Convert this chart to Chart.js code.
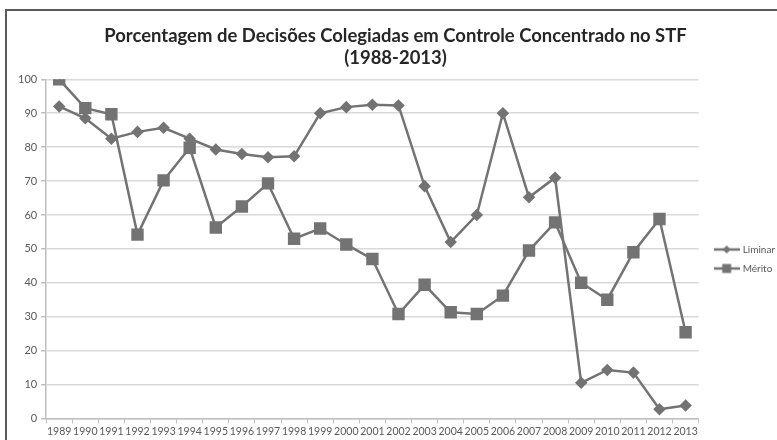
<!DOCTYPE html>
<html>
<head>
<meta charset="utf-8">
<script src="https://cdn.jsdelivr.net/npm/chart.js@4.4.1/dist/chart.umd.min.js"></script>
<style>
  html, body { margin: 0; padding: 0; background: #fff; overflow: hidden; }
  #wrap { position: relative; width: 777px; height: 440px; }
  #frame { position: absolute; left: 5px; top: 9px; width: 800px; height: 500px;
           border-left: 2px solid #5a5a5a; border-top: 2px solid #5a5a5a; pointer-events: none; }
</style>
</head>
<body>
<div id="wrap">
  <canvas id="c" width="777" height="440"></canvas>
  <div id="frame"></div>
</div>
<script>
const titleLines = ['Porcentagem de Decisões Colegiadas em Controle Concentrado no STF', '(1988-2013)'];
const years = ['1989','1990','1991','1992','1993','1994','1995','1996','1997','1998','1999','2000','2001','2002','2003','2004','2005','2006','2007','2008','2009','2010','2011','2012','2013'];
const liminar = [92, 88.5, 82.5, 84.5, 85.7, 82.5, 79.3, 78, 77, 77.3, 90, 91.8, 92.5, 92.3, 68.5, 52, 60, 90, 65.2, 71, 10.5, 14.3, 13.5, 2.7, 3.8];
const merito = [100, 91.5, 89.7, 54.2, 70.2, 79.8, 56.3, 62.5, 69.3, 53, 56, 51.3, 47, 30.8, 39.4, 31.3, 30.8, 36.2, 49.5, 57.8, 40, 35, 49, 58.8, 25.4];
const seriesNames = ['Liminar', 'Mérito'];
const yTicks = [0, 10, 20, 30, 40, 50, 60, 70, 80, 90, 100];

const lineColor = '#737373';
const font = 'Lato, "DejaVu Sans", sans-serif';

// fit title font size to the reference title width (~583px)
function fitSize(text, targetW) {
  const m = document.createElement('canvas').getContext('2d');
  m.font = 'bold 100px ' + font;
  return Math.min(21, 100 * targetW / m.measureText(text).width);
}
const titleSize = fitSize(titleLines[0], 583);

function legendIcon(kind) {
  const cv = document.createElement('canvas');
  cv.width = 26; cv.height = 12;
  const g = cv.getContext('2d');
  g.strokeStyle = lineColor; g.fillStyle = lineColor; g.lineWidth = 2.5;
  g.beginPath(); g.moveTo(0, 6); g.lineTo(26, 6); g.stroke();
  g.beginPath();
  if (kind === 'd') { g.moveTo(13, 2); g.lineTo(17, 6); g.lineTo(13, 10); g.lineTo(9, 6); g.closePath(); }
  else { g.rect(8.5, 1.5, 9, 9); }
  g.fill();
  return cv;
}
const icons = [legendIcon('d'), legendIcon('s')];

const legendShift = {
  id: 'legendShift',
  afterLayout(chart) {
    const lg = chart.legend;
    if (lg) { lg.top += 33; lg.bottom += 33; lg.left += 8; lg.right += 8; }
  }
};

new Chart(document.getElementById('c'), {
  type: 'line',
  data: {
    labels: years,
    datasets: [
      { label: seriesNames[0], data: liminar, borderColor: lineColor, backgroundColor: lineColor,
        borderWidth: 2.5, pointStyle: 'rectRot', pointRadius: 4.5, pointHoverRadius: 4.5, tension: 0 },
      { label: seriesNames[1], data: merito, borderColor: lineColor, backgroundColor: lineColor,
        borderWidth: 2.5, pointStyle: 'rect', pointRadius: 7, pointHoverRadius: 7, tension: 0 }
    ]
  },
  plugins: [legendShift],
  options: {
    responsive: false,
    animation: false,
    layout: { padding: { left: 14, right: 0, top: 12, bottom: 0 } },
    plugins: {
      title: {
        display: true, text: titleLines, color: '#262626',
        font: { family: font, size: titleSize, weight: 'bold', lineHeight: 1.2 },
        padding: { top: 13, bottom: 10 }
      },
      legend: {
        position: 'right', align: 'center',
        labels: {
          usePointStyle: true, pointStyleWidth: 22, color: '#595959',
          font: { family: font, size: 10 },
          boxWidth: 22, boxHeight: 12, padding: 9,
          generateLabels: (chart) => chart.data.datasets.map((ds, i) => ({
            text: ds.label, pointStyle: icons[i], fillStyle: lineColor, strokeStyle: lineColor,
            lineWidth: 0, hidden: false, datasetIndex: i, fontColor: '#595959'
          }))
        }
      },
      tooltip: { enabled: false }
    },
    scales: {
      x: {
        offset: true,
        grid: { display: true, offset: true, drawOnChartArea: false, drawTicks: true, tickLength: 5, color: '#bfbfbf', lineWidth: 1 },
        border: { display: true, color: '#bfbfbf', width: 1.5 },
        ticks: { color: '#595959', font: { family: font, size: 10.5 }, maxRotation: 0, autoSkip: false, padding: 2 }
      },
      y: {
        min: 0, max: 100,
        afterBuildTicks: (s) => { s.ticks = yTicks.map(v => ({ value: v })); },
        grid: { color: '#d9d9d9', lineWidth: 1.5, drawTicks: true, tickLength: 5, tickColor: '#bfbfbf' },
        border: { display: true, color: '#bfbfbf', width: 1.5 },
        ticks: { color: '#595959', font: { family: font, size: 11 }, padding: 4 }
      }
    }
  }
});
</script>
</body>
</html>
